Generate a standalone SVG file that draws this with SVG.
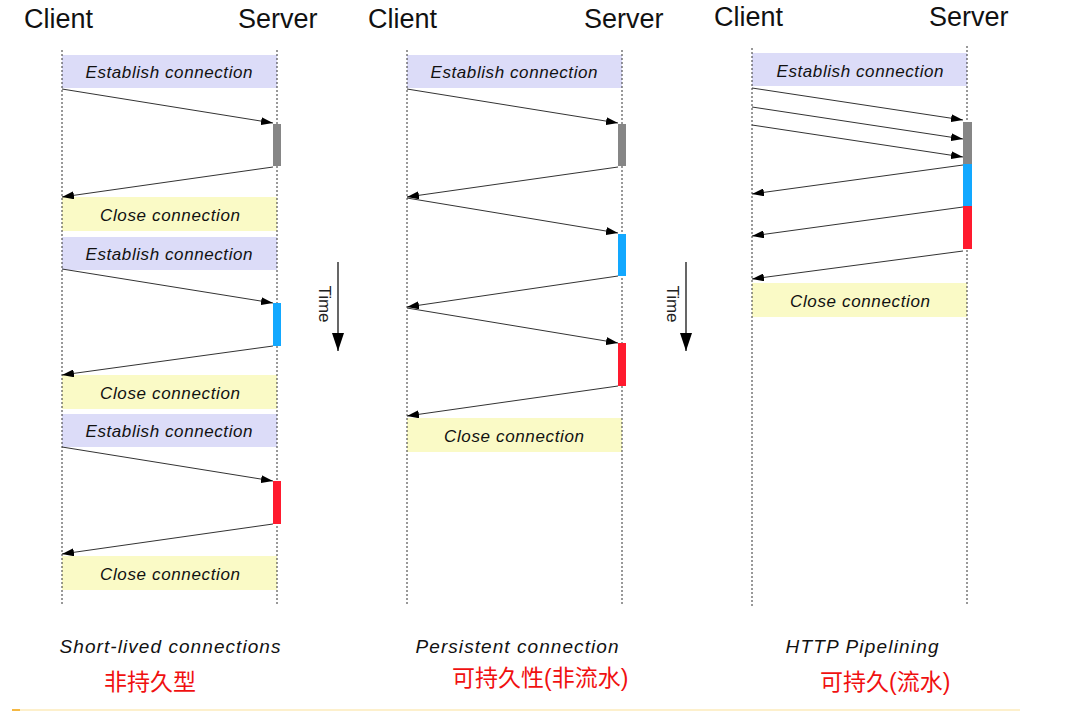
<svg xmlns="http://www.w3.org/2000/svg" width="1071" height="712" viewBox="0 0 1071 712">
<style>
.hdr{font-family:"Liberation Sans",Arial,sans-serif;font-size:27px;fill:#111}
.lbl{font-family:"Liberation Sans",Arial,sans-serif;font-size:17px;font-style:italic;fill:#111;text-anchor:middle}
.cap{font-family:"Liberation Sans",Arial,sans-serif;font-size:19px;font-style:italic;fill:#111;text-anchor:middle}
.cn{font-family:"Liberation Sans","Noto Sans CJK SC",sans-serif;font-size:23px;fill:#f01010}
.life{stroke:#333;stroke-width:1;stroke-dasharray:2,2;fill:none}
.est{fill:#dcdcf8}
.cls{fill:#fafac6}
.msg{stroke:#333;stroke-width:1;fill:none;marker-end:url(#ah)}
.time{font-family:"Liberation Sans",Arial,sans-serif;font-size:17px;fill:#222}
</style>
<defs>
<marker id="ah" markerWidth="12" markerHeight="8" refX="12" refY="4" orient="auto" markerUnits="userSpaceOnUse">
<path d="M0,0 L12,4 L0,8 Z" fill="#000"/>
</marker>
<marker id="th" markerWidth="18" markerHeight="12" refX="18" refY="6" orient="auto" markerUnits="userSpaceOnUse">
<path d="M0,0 L18,6 L0,12 Z" fill="#000"/>
</marker>
</defs>
<rect width="1071" height="712" fill="#fff"/>

<g id="panel1">
<text class="hdr" x="24" y="28">Client</text>
<text class="hdr" x="238" y="28">Server</text>
<rect class="est" x="62" y="55" width="215" height="33"/>
<text class="lbl" x="169" y="78" textLength="167">Establish connection</text>
<rect class="cls" x="62" y="197" width="215" height="34"/>
<text class="lbl" x="170" y="221" textLength="140">Close connection</text>
<rect class="est" x="62" y="237" width="215" height="33"/>
<text class="lbl" x="169" y="260" textLength="167">Establish connection</text>
<rect class="cls" x="62" y="375" width="215" height="34"/>
<text class="lbl" x="170" y="399" textLength="140">Close connection</text>
<rect class="est" x="62" y="414" width="215" height="33"/>
<text class="lbl" x="169" y="437" textLength="167">Establish connection</text>
<rect class="cls" x="62" y="556" width="215" height="34"/>
<text class="lbl" x="170" y="580" textLength="140">Close connection</text>
<line class="life" x1="62" y1="50" x2="62" y2="606"/>
<line class="life" x1="277" y1="50" x2="277" y2="606"/>
<rect x="273" y="124" width="8" height="42" fill="#868686"/>
<rect x="273" y="303" width="8" height="43" fill="#12a8ff"/>
<rect x="273" y="481" width="8" height="43" fill="#ff1a2e"/>
<text class="cap" x="170" y="653" textLength="221">Short-lived connections</text>
<text class="cn" x="104" y="690">非持久型</text>
</g>

<g id="panel2">
<text class="hdr" x="368" y="28">Client</text>
<text class="hdr" x="584" y="28">Server</text>
<rect class="est" x="407" y="55" width="215" height="33"/>
<text class="lbl" x="514" y="78" textLength="167">Establish connection</text>
<rect class="cls" x="407" y="418" width="215" height="34"/>
<text class="lbl" x="514" y="442" textLength="140">Close connection</text>
<line class="life" x1="407" y1="50" x2="407" y2="606"/>
<line class="life" x1="622" y1="50" x2="622" y2="606"/>
<rect x="618" y="124" width="8" height="42" fill="#868686"/>
<rect x="618" y="234" width="8" height="42" fill="#12a8ff"/>
<rect x="618" y="343" width="8" height="43" fill="#ff1a2e"/>
<text class="cap" x="517" y="653" textLength="203">Persistent connection</text>
<text class="cn" x="452" y="686">可持久性(非流水)</text>
</g>

<g id="panel3">
<text class="hdr" x="714" y="26">Client</text>
<text class="hdr" x="929" y="26">Server</text>
<rect class="est" x="752" y="53" width="215" height="33"/>
<text class="lbl" x="860" y="77" textLength="167">Establish connection</text>
<rect class="cls" x="752" y="283" width="215" height="34"/>
<text class="lbl" x="860" y="307" textLength="140">Close connection</text>
<line class="life" x1="752" y1="48" x2="752" y2="606"/>
<line class="life" x1="967" y1="46" x2="967" y2="606"/>
<rect x="963" y="122" width="9" height="42" fill="#868686"/>
<rect x="963" y="164" width="9" height="42" fill="#12a8ff"/>
<rect x="963" y="206" width="9" height="43" fill="#ff1a2e"/>
<text class="cap" x="862" y="653" textLength="153">HTTP Pipelining</text>
<text class="cn" x="820" y="690">可持久(流水)</text>
</g>

<g id="time1">
<line x1="338" y1="262" x2="338" y2="351" stroke="#000" stroke-width="1.2" marker-end="url(#th)"/>
<text class="time" transform="translate(319,304) rotate(90)" text-anchor="middle">Time</text>
</g>
<g id="time2">
<line x1="686" y1="262" x2="686" y2="351" stroke="#000" stroke-width="1.2" marker-end="url(#th)"/>
<text class="time" transform="translate(667,304) rotate(90)" text-anchor="middle">Time</text>
</g>

<g id="connectors">
<line class="msg" x1="62" y1="89" x2="273" y2="123"/>
<line class="msg" x1="273" y1="167" x2="62" y2="197"/>
<line class="msg" x1="62" y1="269" x2="273" y2="303"/>
<line class="msg" x1="273" y1="346" x2="62" y2="375"/>
<line class="msg" x1="62" y1="447" x2="273" y2="481"/>
<line class="msg" x1="273" y1="524" x2="62" y2="554"/>

<line class="msg" x1="407" y1="89" x2="618" y2="123"/>
<line class="msg" x1="618" y1="167" x2="407" y2="197"/>
<line class="msg" x1="407" y1="198" x2="618" y2="233"/>
<line class="msg" x1="618" y1="276" x2="407" y2="307"/>
<line class="msg" x1="407" y1="308" x2="618" y2="343"/>
<line class="msg" x1="618" y1="386" x2="407" y2="416"/>

<line class="msg" x1="752" y1="88" x2="963" y2="120"/>
<line class="msg" x1="752" y1="107" x2="963" y2="139"/>
<line class="msg" x1="752" y1="125" x2="963" y2="157"/>
<line class="msg" x1="963" y1="165" x2="752" y2="194"/>
<line class="msg" x1="963" y1="207" x2="752" y2="236"/>
<line class="msg" x1="963" y1="251" x2="752" y2="279"/>
</g>

<rect x="12" y="709" width="1008" height="2" fill="#fdf0cc"/>
<rect x="12" y="709" width="8" height="2" fill="#f5b843"/>
</svg>
